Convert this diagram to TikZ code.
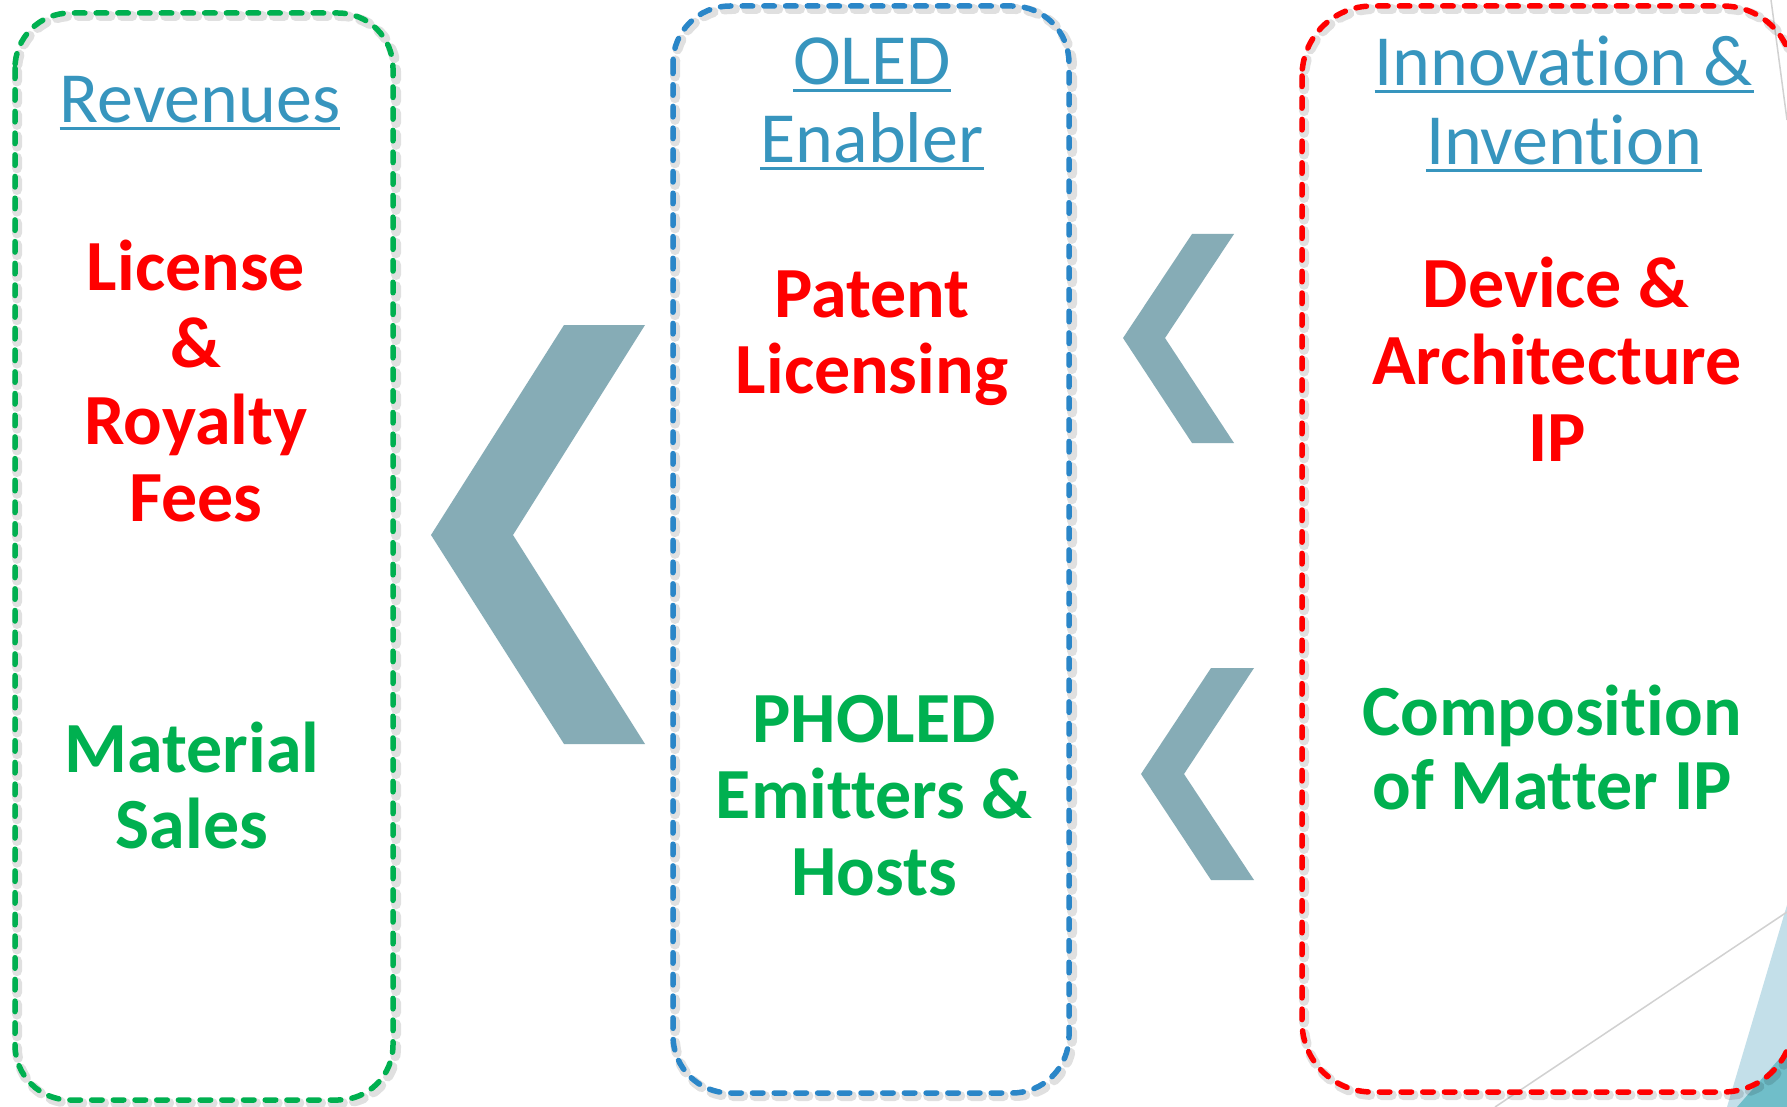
\documentclass[tikz,border=0pt]{standalone}
\usepackage{fontspec}
\setmainfont{Carlito}[RawFeature={-liga,-clig,-dlig,-rlig,-calt}]
\definecolor{headblue}{HTML}{3795BE}
\definecolor{txtred}{HTML}{FF0000}
\definecolor{txtgreen}{HTML}{00B050}
\definecolor{boxgreen}{HTML}{00B050}
\definecolor{boxblue}{HTML}{2A86C8}
\definecolor{boxred}{HTML}{FF0000}
\definecolor{chevgray}{HTML}{86ACB6}
\definecolor{decolight}{HTML}{C3DFE9}
\definecolor{decodark}{HTML}{70BEC9}
\begin{document}
\begin{tikzpicture}[x=1pt,y=-1pt,
  boxline/.style={line width=5.5pt, line cap=round, dash pattern=on 10.5pt off 11.2pt},
  boxshadow/.style={line width=10pt, line cap=round, dash pattern=on 10.5pt off 11.2pt, draw=black, opacity=0.12},
  head/.style={inner sep=0pt, anchor=base, text=headblue, font=\fontsize{72}{77}\selectfont},
  body/.style={inner sep=0pt, anchor=base, font=\bfseries\fontsize{72}{77}\selectfont},
  chev/.style={fill=chevgray, draw=none},
  uline/.style={draw=headblue, line width=3pt},
  decoline/.style={draw=black!18, line width=1.5pt}
]
\useasboundingbox (0,0) rectangle (1787,1107);
\fill[white] (0,0) rectangle (1787,1107);

% background decorations (right edge)
\fill[decolight] (1787,905) -- (1727,1107) -- (1787,1107) -- cycle;
\fill[decodark] (1737,1107) -- (1787,1050) -- (1787,1107) -- cycle;
\draw[decoline] (1787,912) -- (1495,1107);
\draw[decoline] (1771,0) -- (1787,120);

% box shadows
\draw[boxshadow, rounded corners=55pt] (17,16) rectangle (396,1103);
\draw[boxshadow, rounded corners=57pt] (675,9) rectangle (1072,1096);
\draw[boxshadow, rounded corners=70pt] (1304,9) rectangle (1796,1095);

% boxes
\draw[boxline, draw=boxgreen, rounded corners=55pt] (15,13) rectangle (393,1100);
\draw[boxline, draw=boxblue, rounded corners=57pt] (673,6) rectangle (1069,1093);
\draw[boxline, draw=boxred, rounded corners=70pt] (1302,6) rectangle (1793,1092);

% chevrons
\fill[chev] (645,325) -- (564,325) -- (431,535) -- (564,744) -- (645,744) -- (513,535) -- cycle;
\fill[chev] (1234,234) -- (1192,234) -- (1123,338) -- (1192,443) -- (1234,443) -- (1165,338) -- cycle;
\fill[chev] (1254,668) -- (1211,668) -- (1141,774) -- (1211,880) -- (1254,880) -- (1184,774) -- cycle;

% headings
\node[head] (h1) at (200,123) {Revenues};
\node[head] (h2a) at (872,85) {OLED};
\node[head] (h2b) at (872,163) {Enabler};
\node[head] (h3a) at (1564,86) {Innovation \&};
\node[head] (h3b) at (1564,165) {Invention};
\foreach \n in {h1,h2a,h2b,h3a,h3b}{
  \draw[uline] ([yshift=-6pt]\n.base west) -- ([yshift=-6pt]\n.base east);
}

% left column
\node[body, text=txtred] (l1) at (196,290) {License};
\node[body, text=txtred] (l2) at (196,367) {\&};
\node[body, text=txtred] (l3) at (196,444) {Royalty};
\node[body, text=txtred] (l4) at (196,521) {Fees};
\node[body, text=txtgreen] (l5) at (192,772) {Material};
\node[body, text=txtgreen] (l6) at (192,848) {Sales};

% middle column
\node[body, text=txtred] (m1) at (872,317) {Patent};
\node[body, text=txtred] (m2) at (872,393) {Licensing};
\node[body, text=txtgreen] (m3) at (874,742) {PHOLED};
\node[body, text=txtgreen] (m4) at (874,818) {Emitters \&};
\node[body, text=txtgreen] (m5) at (874,895) {Hosts};

% right column
\node[body, text=txtred] (r1) at (1556,307) {Device \&};
\node[body, text=txtred] (r2) at (1557,384) {Architecture};
\node[body, text=txtred] (r3) at (1557,461) {IP};
\node[body, text=txtgreen] (r4) at (1552,735) {Composition};
\node[body, text=txtgreen] (r5) at (1552,809) {of Matter IP};
\end{tikzpicture}
\end{document}
